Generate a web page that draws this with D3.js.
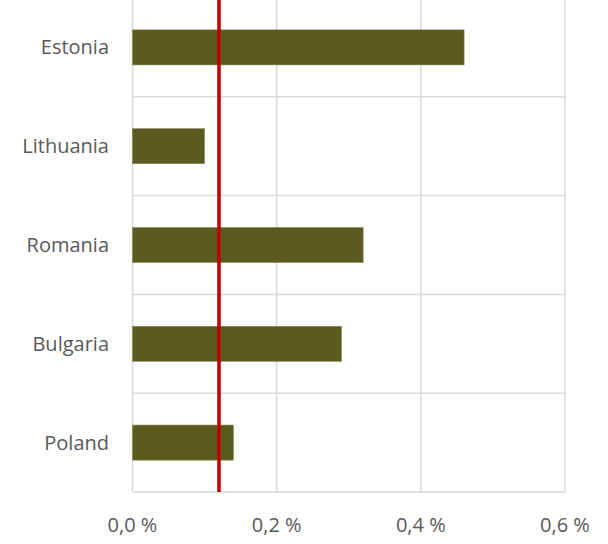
<!DOCTYPE html>
<html>
<head>
<meta charset="utf-8">
<script src="https://cdn.jsdelivr.net/npm/d3@7"></script>
<style>
  html, body { margin: 0; padding: 0; background: #fff; }
  svg text { font-family: "Open Sans", Lato, sans-serif; fill: #595959; }
</style>
</head>
<body>
<svg id="chart" width="608" height="544"></svg>
<script>
// Share by country (percent)
const countries = ["Estonia", "Lithuania", "Romania", "Bulgaria", "Poland"];
const shares = [0.46, 0.10, 0.32, 0.29, 0.14];
// Reference level drawn as a vertical red line
const referenceValue = 0.12;
const xTicks = [0, 0.2, 0.4, 0.6];

const svg = d3.select("#chart");
const plotLeft = 132.5, plotRight = 565, plotTop = -2, plotBottom = 492;

const x = d3.scaleLinear().domain([0, 0.6]).range([plotLeft, plotRight]);
const y = d3.scaleBand().domain(countries).range([plotTop, plotBottom])
  .paddingInner(0.645).paddingOuter(0.3225);

const grid = svg.append("g");
// vertical gridlines
grid.selectAll("line.v").data(xTicks).join("line")
  .attr("class", "v")
  .attr("x1", d => x(d)).attr("x2", d => x(d))
  .attr("y1", 0).attr("y2", plotBottom)
  .attr("stroke", "#d9d9d9").attr("stroke-width", 1.5);
// horizontal separators between categories
const seps = d3.range(1, countries.length + 1)
  .map(i => plotTop + i * (plotBottom - plotTop) / countries.length);
grid.selectAll("line.h").data(seps).join("line")
  .attr("class", "h")
  .attr("x1", plotLeft).attr("x2", plotRight)
  .attr("y1", d => d).attr("y2", d => d)
  .attr("stroke", "#d9d9d9").attr("stroke-width", 1.5);

// bars
svg.append("g").selectAll("rect").data(countries).join("rect")
  .attr("x", x(0))
  .attr("y", d => y(d))
  .attr("width", (d, i) => x(shares[i]) - x(0))
  .attr("height", y.bandwidth())
  .attr("fill", "#5b5a1f")
  .attr("stroke", "#8a8a5a").attr("stroke-width", 0.6);

// reference line
svg.append("line")
  .attr("x1", x(referenceValue)).attr("x2", x(referenceValue))
  .attr("y1", 0).attr("y2", plotBottom)
  .attr("stroke", "#c00000").attr("stroke-width", 3.5);

// category labels
svg.append("g").selectAll("text").data(countries).join("text")
  .attr("x", 109)
  .attr("y", d => y(d) + y.bandwidth() / 2 + 7)
  .attr("text-anchor", "end")
  .attr("font-size", 20)
  .text(d => d);

// x tick labels
const fmt = d => d3.format(".1f")(d).replace(".", ",") + "\u00A0%";
svg.append("g").selectAll("text").data(xTicks).join("text")
  .attr("x", d => x(d))
  .attr("y", 531.5)
  .attr("text-anchor", "middle")
  .attr("font-size", 20)
  .text(fmt);
</script>
</body>
</html>
